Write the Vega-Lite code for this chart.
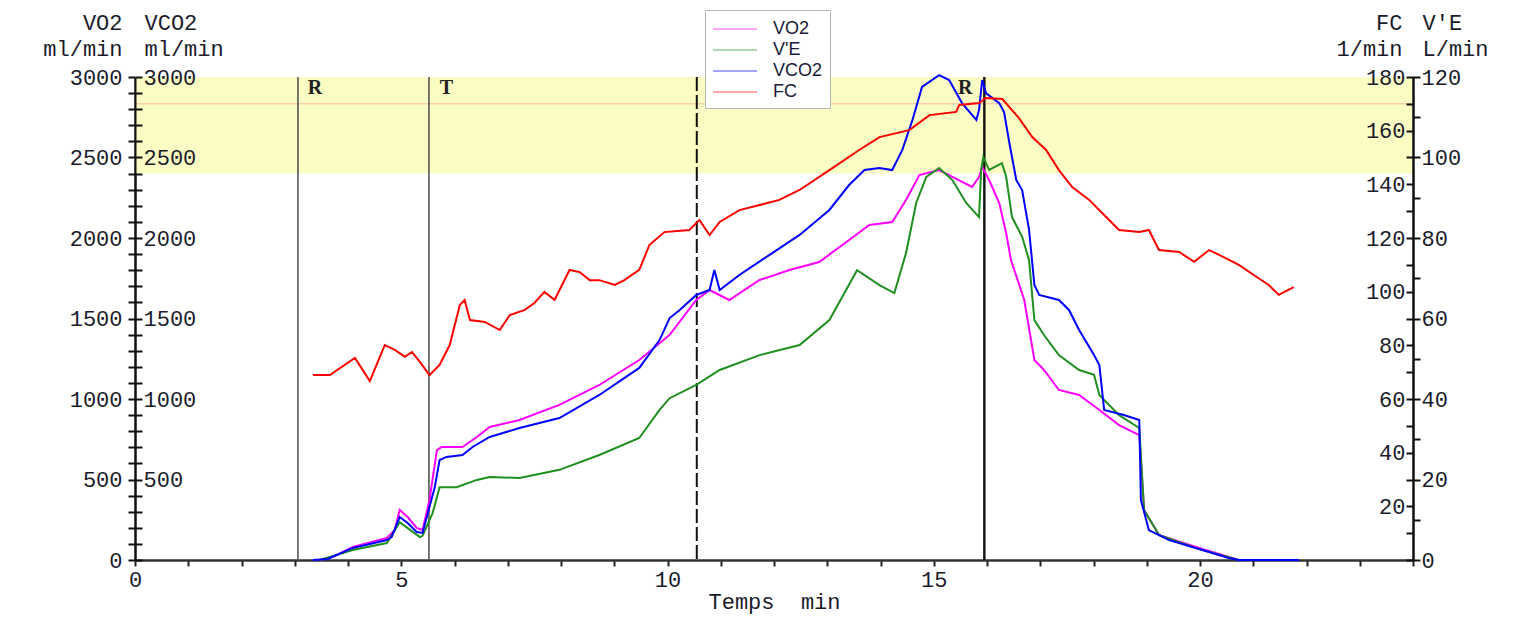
{
 "$schema": "https://vega.github.io/schema/vega-lite/v6.json",
 "width": 1278, "height": 483,
 "autosize": {"type": "none"},
 "padding": {"left": 135, "top": 77, "right": 106, "bottom": 59},
 "background": "white",
 "config": {"view": {"stroke": null}, "axis": {"grid": false}},
 "datasets": {
  "band": [{"t": 0, "t2": 24, "lo": 2400, "hi": 3000}],
  "target": [{"fc": 170}],
  "phases": [{"t": 3.06}, {"t": 5.52}],
  "dashed": [{"t": 10.55}],
  "peak": [{"t": 15.95}],
  "labels": [{"t": 3.38, "v": 2932, "label": "R"}, {"t": 5.85, "v": 2932, "label": "T"}, {"t": 15.59, "v": 2932, "label": "R"}],
  "vo2": [
   {"t":3.47,"v":0},{"t":3.75,"v":25},{"t":4.09,"v":81},{"t":4.73,"v":137},{"t":4.88,"v":186},{"t":4.97,"v":311},{"t":5.12,"v":267},{"t":5.29,"v":199},{"t":5.40,"v":186},{"t":5.53,"v":373},{"t":5.67,"v":683},{"t":5.76,"v":702},{"t":6.15,"v":702},{"t":6.42,"v":764},{"t":6.66,"v":826},{"t":7.22,"v":870},{"t":7.97,"v":963},{"t":8.72,"v":1087},{"t":9.47,"v":1242},{"t":10.04,"v":1398},{"t":10.54,"v":1615},{"t":10.79,"v":1677},{"t":11.16,"v":1615},{"t":11.73,"v":1739},{"t":12.29,"v":1801},{"t":12.85,"v":1851},{"t":13.41,"v":1988},{"t":13.79,"v":2081},{"t":14.22,"v":2099},{"t":14.48,"v":2236},{"t":14.73,"v":2391},{"t":15.10,"v":2422},{"t":15.35,"v":2379},{"t":15.72,"v":2317},{"t":15.85,"v":2379},{"t":15.91,"v":2441},{"t":16.04,"v":2360},{"t":16.23,"v":2217},{"t":16.36,"v":2031},{"t":16.45,"v":1863},{"t":16.70,"v":1615},{"t":16.89,"v":1242},{"t":17.07,"v":1180},{"t":17.35,"v":1056},{"t":17.73,"v":1025},{"t":18.11,"v":932},{"t":18.48,"v":838},{"t":18.86,"v":776},{"t":18.95,"v":311},{"t":19.23,"v":155},{"t":19.98,"v":75},{"t":20.73,"v":0},{"t":21.86,"v":0}
  ],
  "vco2": [
   {"t":3.34,"v":0},{"t":3.62,"v":6},{"t":4.09,"v":75},{"t":4.73,"v":124},{"t":4.82,"v":143},{"t":4.97,"v":267},{"t":5.12,"v":230},{"t":5.29,"v":174},{"t":5.40,"v":168},{"t":5.50,"v":292},{"t":5.63,"v":453},{"t":5.72,"v":621},{"t":5.85,"v":640},{"t":6.15,"v":652},{"t":6.34,"v":702},{"t":6.66,"v":764},{"t":7.22,"v":820},{"t":7.97,"v":882},{"t":8.72,"v":1025},{"t":9.47,"v":1193},{"t":9.85,"v":1366},{"t":10.04,"v":1503},{"t":10.23,"v":1553},{"t":10.54,"v":1646},{"t":10.79,"v":1677},{"t":10.88,"v":1801},{"t":10.98,"v":1677},{"t":11.35,"v":1770},{"t":11.91,"v":1894},{"t":12.48,"v":2019},{"t":13.04,"v":2174},{"t":13.41,"v":2329},{"t":13.70,"v":2422},{"t":13.98,"v":2435},{"t":14.22,"v":2422},{"t":14.41,"v":2547},{"t":14.60,"v":2733},{"t":14.78,"v":2938},{"t":15.10,"v":3012},{"t":15.29,"v":2981},{"t":15.53,"v":2838},{"t":15.80,"v":2733},{"t":15.85,"v":2795},{"t":15.91,"v":2981},{"t":15.98,"v":2900},{"t":16.23,"v":2838},{"t":16.32,"v":2783},{"t":16.42,"v":2590},{"t":16.55,"v":2360},{"t":16.66,"v":2298},{"t":16.79,"v":2050},{"t":16.89,"v":1708},{"t":16.98,"v":1646},{"t":17.35,"v":1615},{"t":17.54,"v":1553},{"t":17.73,"v":1429},{"t":18.01,"v":1273},{"t":18.11,"v":1211},{"t":18.20,"v":932},{"t":18.57,"v":901},{"t":18.86,"v":870},{"t":18.89,"v":373},{"t":19.04,"v":186},{"t":19.42,"v":124},{"t":19.98,"v":68},{"t":20.54,"v":12},{"t":20.73,"v":0},{"t":21.86,"v":0}
  ],
  "ve": [
   {"t":3.47,"v":0},{"t":4.09,"v":2.5},{"t":4.73,"v":4.2},{"t":4.97,"v":9.4},{"t":5.35,"v":5.7},{"t":5.40,"v":6.0},{"t":5.59,"v":11.7},{"t":5.72,"v":18.1},{"t":6.04,"v":18.1},{"t":6.42,"v":19.9},{"t":6.66,"v":20.6},{"t":7.22,"v":20.4},{"t":7.97,"v":22.4},{"t":8.72,"v":26.1},{"t":9.47,"v":30.3},{"t":9.85,"v":37.3},{"t":10.04,"v":40.2},{"t":10.54,"v":43.5},{"t":10.98,"v":47.2},{"t":11.73,"v":50.9},{"t":12.48,"v":53.4},{"t":13.04,"v":59.6},{"t":13.56,"v":72.0},{"t":13.98,"v":68.3},{"t":14.26,"v":66.3},{"t":14.48,"v":76.3},{"t":14.67,"v":88.7},{"t":14.86,"v":95.2},{"t":15.10,"v":97.4},{"t":15.35,"v":94.4},{"t":15.61,"v":88.7},{"t":15.85,"v":85.2},{"t":15.89,"v":96.9},{"t":15.93,"v":100.1},{"t":16.04,"v":96.9},{"t":16.28,"v":98.6},{"t":16.36,"v":95.2},{"t":16.47,"v":85.2},{"t":16.66,"v":80.3},{"t":16.79,"v":74.5},{"t":16.89,"v":59.6},{"t":17.07,"v":55.9},{"t":17.35,"v":50.9},{"t":17.73,"v":47.2},{"t":18.01,"v":46.0},{"t":18.11,"v":41.0},{"t":18.48,"v":36.0},{"t":18.86,"v":32.8},{"t":18.95,"v":12.4},{"t":19.23,"v":6.2},{"t":19.98,"v":2.7},{"t":20.73,"v":0}
  ],
  "fc": [
   {"t":3.34,"v":68.9},{"t":3.66,"v":68.9},{"t":4.13,"v":75.3},{"t":4.41,"v":66.7},{"t":4.69,"v":80.1},{"t":4.88,"v":78.3},{"t":5.07,"v":75.7},{"t":5.20,"v":77.5},{"t":5.35,"v":73.8},{"t":5.53,"v":68.9},{"t":5.72,"v":72.7},{"t":5.91,"v":80.1},{"t":6.10,"v":95.0},{"t":6.19,"v":96.9},{"t":6.29,"v":89.4},{"t":6.57,"v":88.7},{"t":6.85,"v":85.7},{"t":7.04,"v":91.3},{"t":7.32,"v":93.2},{"t":7.50,"v":95.8},{"t":7.69,"v":99.9},{"t":7.88,"v":96.9},{"t":8.16,"v":108.1},{"t":8.35,"v":107.3},{"t":8.54,"v":104.3},{"t":8.72,"v":104.3},{"t":9.01,"v":102.5},{"t":9.19,"v":104.3},{"t":9.47,"v":108.1},{"t":9.66,"v":117.4},{"t":9.94,"v":122.2},{"t":10.41,"v":123.0},{"t":10.60,"v":126.7},{"t":10.79,"v":121.1},{"t":10.98,"v":126.0},{"t":11.35,"v":130.4},{"t":11.73,"v":132.3},{"t":12.10,"v":134.2},{"t":12.48,"v":137.9},{"t":13.04,"v":145.3},{"t":13.60,"v":152.8},{"t":13.98,"v":157.6},{"t":14.54,"v":160.2},{"t":14.92,"v":165.8},{"t":15.42,"v":167.0},{"t":15.48,"v":169.6},{"t":15.85,"v":170.3},{"t":15.98,"v":172.2},{"t":16.29,"v":171.8},{"t":16.42,"v":168.8},{"t":16.60,"v":164.7},{"t":16.85,"v":157.6},{"t":17.11,"v":152.8},{"t":17.35,"v":145.3},{"t":17.60,"v":139.0},{"t":17.92,"v":134.2},{"t":18.20,"v":128.6},{"t":18.48,"v":123.0},{"t":18.86,"v":122.2},{"t":19.04,"v":123.0},{"t":19.23,"v":115.5},{"t":19.61,"v":114.8},{"t":19.89,"v":111.1},{"t":20.17,"v":115.5},{"t":20.36,"v":113.7},{"t":20.73,"v":110.0},{"t":21.01,"v":106.2},{"t":21.29,"v":102.5},{"t":21.48,"v":98.8},{"t":21.76,"v":101.7}
  ]
 },
 "encoding": {
  "x": {
   "field": "t", "type": "quantitative",
   "scale": {"domain": [0, 24], "nice": false, "zero": false},
   "axis": {
    "values": [0,1,2,3,4,5,6,7,8,9,10,11,12,13,14,15,16,17,18,19,20,21,22,23,24],
    "format": "d",
    "labelExpr": "datum.value % 5 === 0 && datum.value < 24 ? datum.label : ''",
    "labelOverlap": false, "labelFlush": false,
    "tickSize": 6, "tickWidth": 2, "tickColor": "#222",
    "domainColor": "#333", "domainWidth": 2.5,
    "labelFont": "Liberation Mono", "labelFontSize": 22, "labelColor": "#1b1b2b", "labelPadding": 3,
    "title": "Temps\u00a0\u00a0min", "titleFont": "Liberation Mono", "titleFontSize": 22, "titleFontWeight": "normal", "titleColor": "#1b1b2b", "titlePadding": 1
   }
  }
 },
 "layer": [
  {
   "data": {"name": "band"},
   "mark": {"type": "rect", "color": "#fbfbc4"},
   "encoding": {
    "x2": {"field": "t2"},
    "y": {"field": "lo", "type": "quantitative", "scale": {"domain": [0, 3000]}, "axis": null},
    "y2": {"field": "hi"}
   }
  },
  {
   "data": {"name": "target"},
   "mark": {"type": "rule", "color": "#f6b8a4", "strokeWidth": 1},
   "encoding": {
    "x": {"value": 0}, "x2": {"value": 1278},
    "y": {"field": "fc", "type": "quantitative", "scale": {"domain": [0, 180]}, "axis": null}
   }
  },
  {
   "data": {"name": "phases"},
   "mark": {"type": "rule", "color": "#555555", "strokeWidth": 1.6},
   "encoding": {}
  },
  {
   "data": {"name": "dashed"},
   "mark": {"type": "rule", "color": "#111111", "strokeWidth": 2, "strokeDash": [14, 4]},
   "encoding": {}
  },
  {
   "data": {"name": "peak"},
   "mark": {"type": "rule", "color": "#111111", "strokeWidth": 2.4},
   "encoding": {}
  },
  {
   "data": {"name": "vo2"},
   "mark": {"type": "line", "strokeWidth": 2},
   "encoding": {
    "y": {"field": "v", "type": "quantitative", "scale": {"domain": [0, 3000]},
     "axis": {
      "orient": "left",
      "values": [0,100,200,300,400,500,600,700,800,900,1000,1100,1200,1300,1400,1500,1600,1700,1800,1900,2000,2100,2200,2300,2400,2500,2600,2700,2800,2900,3000],
      "format": "d",
      "labelExpr": "datum.value % 500 === 0 ? datum.label : ''",
      "labelOverlap": false, "labelFlush": false,
      "tickSize": 7, "tickWidth": 2, "tickColor": "#111",
      "domainColor": "#111", "domainWidth": 2,
      "labelFont": "Liberation Mono", "labelFontSize": 22, "labelColor": "#1b1b2b", "labelPadding": 6,
      "title": ["VO2", "ml/min"], "titleAngle": 0, "titleAlign": "right", "titleBaseline": "middle",
      "titleX": -13, "titleY": -55, "titleLineHeight": 26,
      "titleFont": "Liberation Mono", "titleFontSize": 22, "titleFontWeight": "normal", "titleColor": "#1b1b2b"
     }
    },
    "color": {"datum": "VO2", "type": "nominal",
     "scale": {"domain": ["VO2", "V'E", "VCO2", "FC"], "range": ["#ff00ff", "#1f8f1f", "#0000ff", "#ff0000"]},
     "legend": {"orient": "none", "legendX": 570, "legendY": -67, "direction": "vertical", "title": null,
      "fillColor": "white", "strokeColor": "#b4b4b4", "padding": 7,
      "symbolType": "M-1,0H3", "symbolSize": 484, "symbolStrokeWidth": 2, "symbolOpacity": 0.35,
      "rowPadding": 0, "labelFont": "Liberation Sans", "labelFontSize": 18, "labelColor": "#1a1a3a", "labelOffset": 37}
    }
   }
  },
  {
   "data": {"name": "ve"},
   "mark": {"type": "line", "strokeWidth": 2},
   "encoding": {
    "y": {"field": "v", "type": "quantitative", "scale": {"domain": [0, 120]},
     "axis": {
      "orient": "right", "zindex": 1,
      "values": [0,10,20,30,40,50,60,70,80,90,100,110,120],
      "format": "d",
      "labelExpr": "datum.value % 20 === 0 ? datum.label : ''",
      "labelOverlap": false, "labelFlush": false,
      "tickSize": 7, "tickWidth": 2, "tickColor": "#111",
      "domainColor": "#111", "domainWidth": 2,
      "labelFont": "Liberation Mono", "labelFontSize": 22, "labelColor": "#1b1b2b", "labelPadding": 1,
      "title": ["V'E", "L/min"], "titleAngle": 0, "titleAlign": "left", "titleBaseline": "middle",
      "titleX": 9, "titleY": -55, "titleLineHeight": 26,
      "titleFont": "Liberation Mono", "titleFontSize": 22, "titleFontWeight": "normal", "titleColor": "#1b1b2b"
     }
    },
    "color": {"datum": "V'E", "type": "nominal"}
   }
  },
  {
   "data": {"name": "vco2"},
   "mark": {"type": "line", "strokeWidth": 2},
   "encoding": {
    "y": {"field": "v", "type": "quantitative", "scale": {"domain": [0, 3000]},
     "axis": {
      "orient": "right", "offset": -1278, "zindex": 1,
      "values": [0,100,200,300,400,500,600,700,800,900,1000,1100,1200,1300,1400,1500,1600,1700,1800,1900,2000,2100,2200,2300,2400,2500,2600,2700,2800,2900,3000],
      "format": "d",
      "labelExpr": "datum.value % 500 === 0 && datum.value > 0 ? datum.label : ''",
      "labelOverlap": false, "labelFlush": false,
      "tickSize": 7, "tickWidth": 2, "tickColor": "#111",
      "domainColor": "#111", "domainWidth": 2,
      "labelFont": "Liberation Mono", "labelFontSize": 22, "labelColor": "#1b1b2b", "labelPadding": 1,
      "title": ["VCO2", "ml/min"], "titleAngle": 0, "titleAlign": "left", "titleBaseline": "middle",
      "titleX": 9, "titleY": -55, "titleLineHeight": 26,
      "titleFont": "Liberation Mono", "titleFontSize": 22, "titleFontWeight": "normal", "titleColor": "#1b1b2b"
     }
    },
    "color": {"datum": "VCO2", "type": "nominal"}
   }
  },
  {
   "data": {"name": "fc"},
   "mark": {"type": "line", "strokeWidth": 2},
   "encoding": {
    "y": {"field": "v", "type": "quantitative", "scale": {"domain": [0, 180]},
     "axis": {
      "orient": "left", "offset": -1278, "zindex": 1,
      "values": [0,10,20,30,40,50,60,70,80,90,100,110,120,130,140,150,160,170,180],
      "format": "d",
      "labelExpr": "datum.value % 20 === 0 && datum.value > 0 ? datum.label : ''",
      "labelOverlap": false, "labelFlush": false,
      "tickSize": 7, "tickWidth": 2, "tickColor": "#111",
      "domainColor": "#111", "domainWidth": 2,
      "labelFont": "Liberation Mono", "labelFontSize": 22, "labelColor": "#1b1b2b", "labelPadding": 1,
      "title": ["FC", "1/min"], "titleAngle": 0, "titleAlign": "right", "titleBaseline": "middle",
      "titleX": -11, "titleY": -55, "titleLineHeight": 26,
      "titleFont": "Liberation Mono", "titleFontSize": 22, "titleFontWeight": "normal", "titleColor": "#1b1b2b"
     }
    },
    "color": {"datum": "FC", "type": "nominal"}
   }
  },
  {
   "data": {"name": "labels"},
   "mark": {"type": "text", "font": "Liberation Serif", "fontSize": 20, "fontWeight": "bold", "color": "#222", "align": "center", "baseline": "middle"},
   "encoding": {
    "y": {"field": "v", "type": "quantitative", "scale": {"domain": [0, 3000]}, "axis": null},
    "text": {"field": "label"}
   }
  }
 ],
 "resolve": {"scale": {"y": "independent"}, "axis": {"y": "independent"}}
}
